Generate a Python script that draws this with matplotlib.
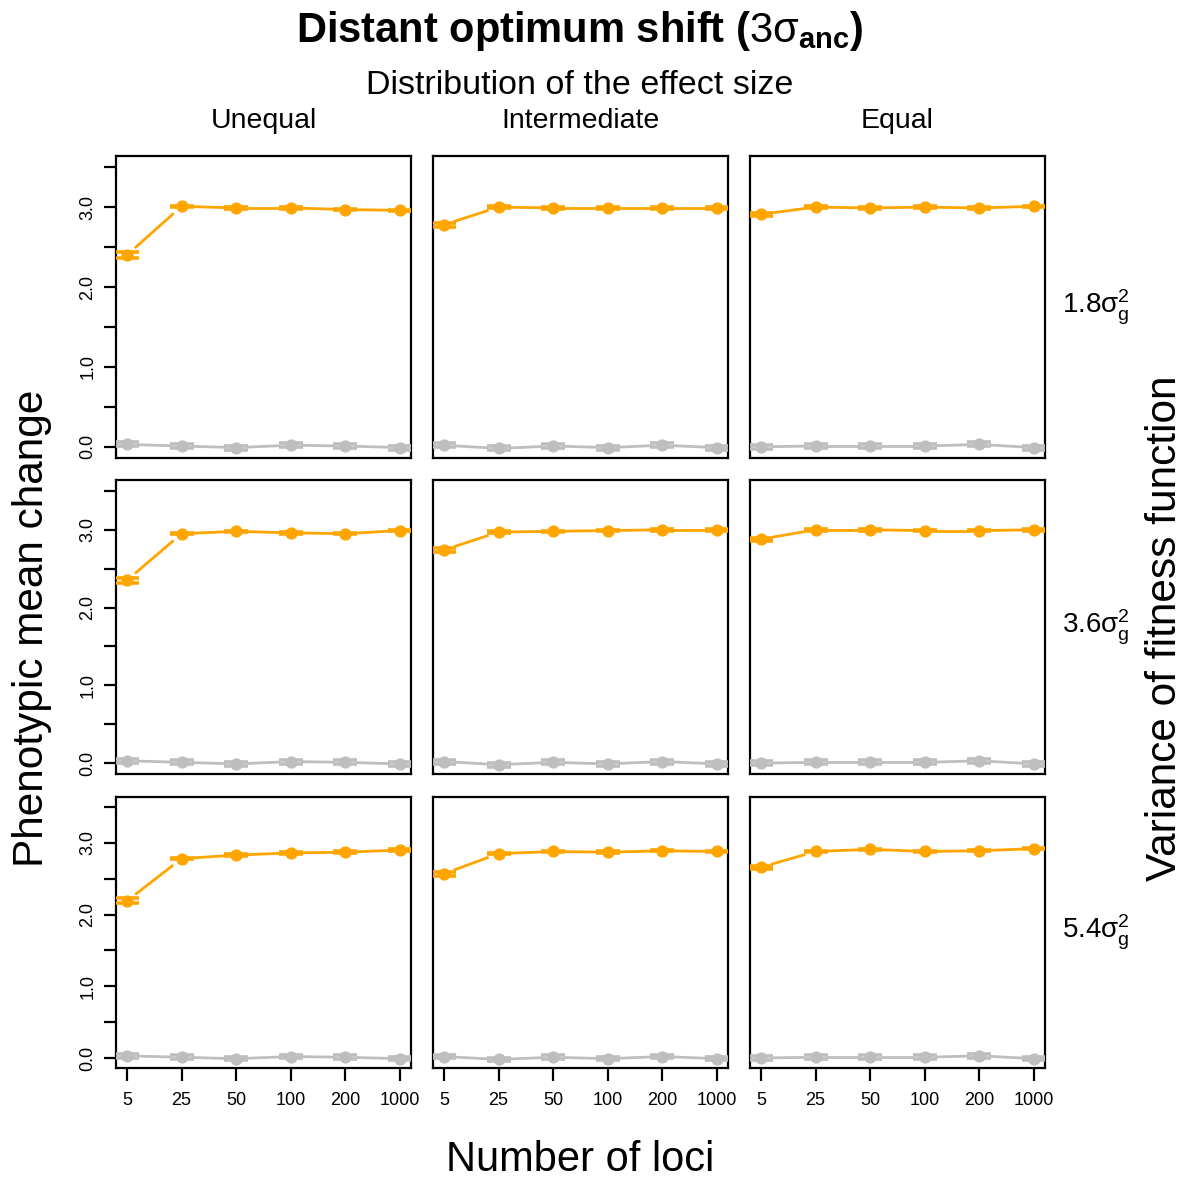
import numpy as np
import matplotlib
matplotlib.use("Agg")
import matplotlib.pyplot as plt

plt.rcParams['font.family'] = ['Liberation Sans', 'DejaVu Sans']
plt.rcParams['mathtext.fontset'] = 'custom'
plt.rcParams['mathtext.rm'] = 'Liberation Sans'
plt.rcParams['mathtext.it'] = 'Liberation Sans:italic'
plt.rcParams['mathtext.bf'] = 'Liberation Sans:bold'

loci = ["5", "25", "50", "100", "200", "1000"]
columns = ["Unequal", "Intermediate", "Equal"]
rows = [r"1.8$\mathrm{\sigma_g^2}$", r"3.6$\mathrm{\sigma_g^2}$", r"5.4$\mathrm{\sigma_g^2}$"]

# orange = shifted optimum, one list per panel (row = fitness variance)
shift_18_unequal = [2.40, 3.01, 2.99, 2.99, 2.97, 2.96]
shift_18_intermediate = [2.78, 3.00, 2.99, 2.99, 2.99, 2.99]
shift_18_equal = [2.91, 3.00, 2.99, 3.00, 2.99, 3.01]
shift_36_unequal = [2.35, 2.95, 2.98, 2.96, 2.95, 2.99]
shift_36_intermediate = [2.74, 2.97, 2.98, 2.99, 3.00, 3.00]
shift_36_equal = [2.88, 3.00, 3.00, 2.99, 2.99, 3.00]
shift_54_unequal = [2.19, 2.78, 2.83, 2.86, 2.87, 2.90]
shift_54_intermediate = [2.57, 2.85, 2.88, 2.87, 2.89, 2.88]
shift_54_equal = [2.66, 2.88, 2.91, 2.88, 2.89, 2.92]

# grey = no shift (same in every row)
still_unequal = [0.03, 0.01, -0.01, 0.02, 0.01, -0.01]
still_intermediate = [0.02, -0.02, 0.01, -0.01, 0.02, -0.01]
still_equal = [0.00, 0.01, 0.01, 0.01, 0.03, -0.01]

se_shift_unequal = [0.035, 0.01, 0.01, 0.01, 0.01, 0.01]
se_shift_intermediate = [0.025, 0.01, 0.01, 0.01, 0.01, 0.01]
se_shift_equal = [0.02, 0.01, 0.01, 0.01, 0.01, 0.01]
se_still = [0.025, 0.025, 0.025, 0.025, 0.025, 0.025]

ORANGE = "#FFA500"
GREY = "#BEBEBE"
W, H = 1189, 1180

# panel edges in pixels
col_left = [116, 433, 750]
col_width = 295
row_edges = [(156, 458), (480, 774), (797, 1068)]


def px_axes(fig, left, top, width, height):
	return fig.add_axes([left / W, 1 - (top + height) / H, width / W, height / H])


# R style type="b": segments stop short of the points
def gapped_line(ax, x, y, color, gap=10.5):
	pts = ax.transData.transform(np.column_stack([x, y]))
	inv = ax.transData.inverted()
	for i in range(len(pts) - 1):
		p0, p1 = pts[i], pts[i + 1]
		d = p1 - p0
		dist = np.hypot(d[0], d[1])
		if dist <= 2 * gap:
			continue
		u = d / dist
		a = inv.transform(p0 + u * gap)
		b = inv.transform(p1 - u * gap)
		ax.plot([a[0], b[0]], [a[1], b[1]], color=color, lw=2.0, solid_capstyle="butt", zorder=2)


def draw_series(ax, x, y, se, color):
	y = np.array(y)
	se = np.array(se)
	gapped_line(ax, x, y, color)
	for xi, yi, si in zip(x, y, se):
		for yy in (yi - si, yi + si):
			ax.plot([xi - 0.22, xi + 0.22], [yy, yy], color=color, lw=2.6, solid_capstyle="butt", zorder=3)
	ax.plot(x, y, "o", color=color, ms=7.8, mec=color, zorder=4)


def main():
	fig = plt.figure(figsize=(W / 100, H / 100), dpi=100)

	shifts = [[shift_18_unequal, shift_18_intermediate, shift_18_equal],
			[shift_36_unequal, shift_36_intermediate, shift_36_equal],
			[shift_54_unequal, shift_54_intermediate, shift_54_equal]]
	stills = [still_unequal, still_intermediate, still_equal]
	se_shift = [se_shift_unequal, se_shift_intermediate, se_shift_equal]

	x = np.arange(1, len(loci) + 1)

	for r in range(3):
		top, bottom = row_edges[r]
		for c in range(3):
			ax = px_axes(fig, col_left[c], top, col_width, bottom - top)
			ax.set_xlim(0.8, 6.2)
			ax.set_ylim(-0.14, 3.64)
			for s in ax.spines.values():
				s.set_linewidth(1.6)
			ax.set_yticks(np.arange(0, 3.6, 0.5))
			ax.set_yticklabels(["0.0", "", "1.0", "", "2.0", "", "3.0", ""], rotation=90, va="center")
			ax.set_xticks(x)
			ax.set_xticklabels(loci)
			ax.tick_params(length=9, width=1.6, labelsize=13, pad=5)
			ax.tick_params(axis="x", labelsize=13, pad=8)
			if c > 0:
				ax.tick_params(axis="y", left=False, labelleft=False)
			if r < 2:
				ax.tick_params(axis="x", bottom=False, labelbottom=False)

			draw_series(ax, x, stills[c], se_still, GREY)
			draw_series(ax, x, shifts[r][c], se_shift[c], ORANGE)

			if r == 0:
				fig.text((col_left[c] + col_width / 2) / W, 1 - 121 / H, columns[c],
						ha="center", va="center", fontsize=20.5)
		fig.text(1062 / W, 1 - ((top + bottom) / 2) / H, rows[r], ha="left", va="center", fontsize=20)

	fig.text(580 / W, 1 - 31 / H, r"Distant optimum shift ($\mathrm{3\sigma}_{\mathbf{anc}}$)",
			ha="center", va="center", fontsize=30, fontweight="bold")
	fig.text(580 / W, 1 - 85 / H, "Distribution of the effect size", ha="center", va="center", fontsize=24.5)
	fig.text(580 / W, 1 - 1160 / H, "Number of loci", ha="center", va="center", fontsize=30)
	fig.text(32 / W, 1 - 628 / H, "Phenotypic mean change", ha="center", va="center", fontsize=30.5, rotation=90)
	fig.text(1165 / W, 1 - 628 / H, "Variance of fitness function", ha="center", va="center", fontsize=30.5, rotation=90)

	fig.savefig("out.png", dpi=100)


main()
